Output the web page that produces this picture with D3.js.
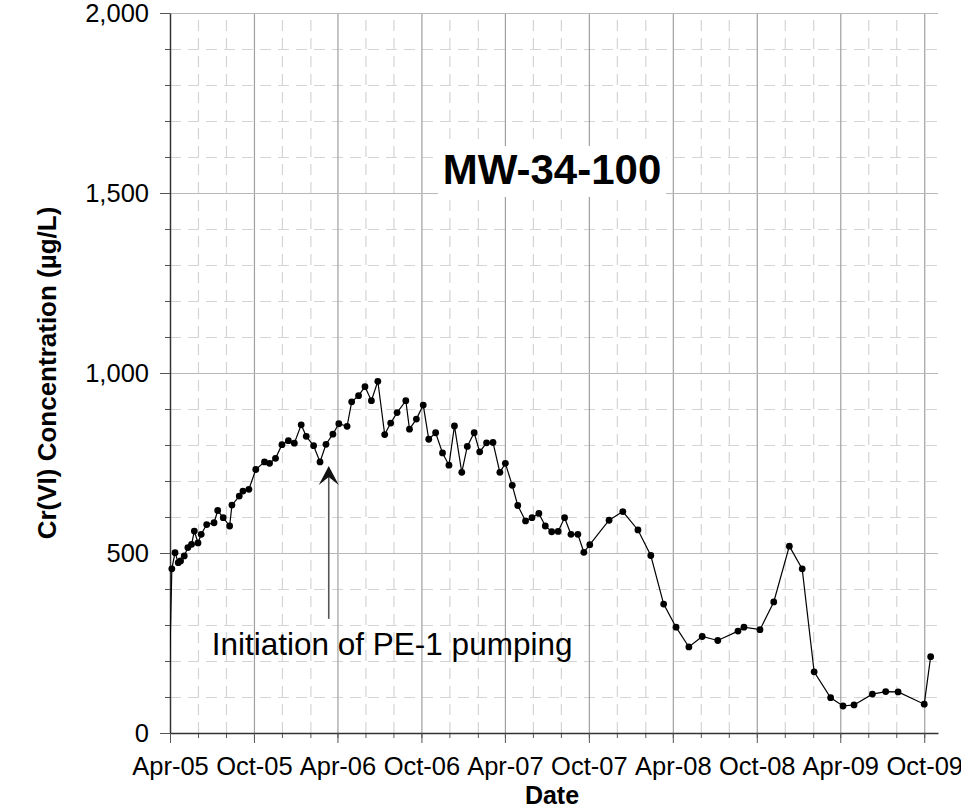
<!DOCTYPE html>
<html>
<head>
<meta charset="utf-8">
<script src="https://cdn.jsdelivr.net/npm/d3@7"></script>
<style>
  html, body { margin: 0; padding: 0; background: #fff; }
  svg { display: block; font-family: "Liberation Sans", Arial, sans-serif; }
</style>
</head>
<body>
<svg id="chart" width="961" height="808"></svg>
<script>
// sample dates (first one lies just before the axis start and is clipped)
const sampleDates = ["2005-03-28",
  "2005-04-05","2005-04-12","2005-04-19","2005-04-24","2005-05-02","2005-05-10","2005-05-18","2005-05-24","2005-06-01","2005-06-08",
  "2005-06-20","2005-07-06","2005-07-14","2005-07-26","2005-08-09","2005-08-14","2005-08-30","2005-09-07","2005-09-20","2005-10-05",
  "2005-10-24","2005-11-04","2005-11-17","2005-12-01","2005-12-15","2005-12-28","2006-01-12","2006-01-23","2006-02-08","2006-02-22",
  "2006-03-07","2006-03-22","2006-04-04","2006-04-22","2006-05-02","2006-05-17","2006-05-31","2006-06-14","2006-06-28","2006-07-13",
  "2006-07-26","2006-08-09","2006-08-28","2006-09-05","2006-09-20","2006-10-05","2006-10-17","2006-11-01","2006-11-16","2006-11-30",
  "2006-12-12","2006-12-28","2007-01-09","2007-01-24","2007-02-05","2007-02-20","2007-03-06","2007-03-21","2007-04-02","2007-04-17",
  "2007-04-29","2007-05-16","2007-05-30","2007-06-14","2007-06-28","2007-07-12","2007-07-26","2007-08-09","2007-08-23","2007-09-07",
  "2007-09-20","2007-10-03","2007-11-14","2007-12-14","2008-01-16","2008-02-13","2008-03-12","2008-04-08","2008-05-06","2008-06-04",
  "2008-07-08","2008-08-21","2008-09-03","2008-10-08","2008-11-07","2008-12-11","2009-01-08","2009-02-03","2009-03-11","2009-04-07",
  "2009-05-01","2009-06-10","2009-07-09","2009-08-05","2009-10-01","2009-10-15"];

// Cr(VI) in ug/L
const crValues = [0,
  456,501,473,478,492,515,524,561,528,552,
  579,584,618,598,575,633,658,672,677,732,
  753,749,763,801,812,805,856,824,798,753,
  802,830,859,852,920,937,962,923,977,829,
  861,890,923,844,872,911,816,834,778,744,
  853,724,796,834,781,806,807,724,749,688,
  632,589,598,610,575,559,560,598,552,552,
  502,523,591,615,564,493,358,294,239,268,
  257,283,294,287,364,519,456,170,98,75,
  78,108,115,114,80,212];

const xDomain = ["2005-04-01", "2009-10-31"];
const yTicksMajor = [0, 500, 1000, 1500, 2000];
const yTicksMinor = d3.range(0, 2001, 100);
const xTickLabels = ["Apr-05","Oct-05","Apr-06","Oct-06","Apr-07","Oct-07","Apr-08","Oct-08","Apr-09","Oct-09"];

const chartTitle = "MW-34-100";
const yTitle = "Cr(VI) Concentration (µg/L)";
const xTitle = "Date";
const noteText = "Initiation of PE-1 pumping";
const noteTip = ["2006-03-13", 742];   // arrow tip
const noteTail = ["2006-03-13", 317];  // arrow tail
const noteLabel = ["2005-07-01", 217]; // text start / baseline

const parse = d3.utcParse("%Y-%m-%d");
const data = sampleDates.map((d, i) => ({ date: parse(d), value: crValues[i] }));

const plotL = 170, plotR = 938, plotT = 13, plotB = 733;
const svg = d3.select("#chart");

const x = d3.scaleUtc().domain(xDomain.map(parse)).range([plotL, plotR]);
const y = d3.scaleLinear().domain([0, 2000]).range([plotB, plotT]);

const start = parse(xDomain[0]);
const majorDates = d3.utcMonth.range(start, x.domain()[1], 6);
const minorDates = d3.utcMonth.range(start, x.domain()[1], 2);
const minorOnly = minorDates.filter(d => d.getUTCMonth() !== 3 && d.getUTCMonth() !== 9);

// minor dashed grid
svg.append("g")
    .attr("transform", `translate(0,${plotB})`)
    .call(d3.axisBottom(x).tickValues(minorOnly).tickSize(-(plotB - plotT)).tickFormat(""))
    .call(g => g.select(".domain").remove())
    .selectAll("line").attr("stroke", "#d4d4d4").attr("stroke-width", 1.2).attr("stroke-dasharray", "11,7");

svg.append("g")
    .attr("transform", `translate(${plotL},0)`)
    .call(d3.axisLeft(y).tickValues(yTicksMinor.filter(v => v % 500 !== 0)).tickSize(-(plotR - plotL)).tickFormat(""))
    .call(g => g.select(".domain").remove())
    .selectAll("line").attr("stroke", "#d4d4d4").attr("stroke-width", 1.2).attr("stroke-dasharray", "11,7");

// major grid
svg.append("g")
    .attr("transform", `translate(0,${plotB})`)
    .call(d3.axisBottom(x).tickValues(majorDates).tickSize(-(plotB - plotT)).tickFormat(""))
    .call(g => g.select(".domain").remove())
    .selectAll("line").attr("stroke", "#a0a0a0").attr("stroke-width", 1.2);

svg.append("g")
    .attr("transform", `translate(${plotL},0)`)
    .call(d3.axisLeft(y).tickValues(yTicksMajor).tickSize(-(plotR - plotL)).tickFormat(""))
    .call(g => g.select(".domain").remove())
    .selectAll("line").attr("stroke", "#b8b8b8").attr("stroke-width", 1.2);

// title with white box
const titleX = (plotL + plotR) / 2 - 2;
const titleG = svg.append("g");
titleG.append("rect")
    .attr("x", titleX - 114).attr("y", 146)
    .attr("width", 228).attr("height", 51)
    .attr("fill", "#fff");
titleG.append("text")
    .attr("x", titleX).attr("y", 184)
    .attr("text-anchor", "middle")
    .attr("font-size", 42).attr("font-weight", "bold")
    .text(chartTitle);

// axes
const yAxisG = svg.append("g")
    .attr("transform", `translate(${plotL},0)`);
yAxisG.append("g")
    .call(d3.axisLeft(y).tickValues(yTicksMinor).tickSize(5).tickFormat(""))
    .call(g => g.select(".domain").remove())
    .selectAll("line").attr("stroke", "#555");
yAxisG.append("g")
    .call(d3.axisLeft(y).tickValues(yTicksMajor).tickSize(10).tickSizeOuter(0).tickPadding(11).tickFormat(d3.format(",")))
    .call(g => g.selectAll("line").attr("stroke", "#555"))
    .call(g => g.select(".domain").attr("stroke", "#333").attr("stroke-width", 1.4))
    .call(g => g.selectAll("text").attr("font-size", 25.5).attr("fill", "#000")
        .attr("font-family", "'Liberation Sans', Arial, sans-serif"));

const xAxisG = svg.append("g")
    .attr("transform", `translate(0,${plotB})`);
xAxisG.append("g")
    .call(d3.axisBottom(x).tickValues(minorDates).tickSize(5).tickFormat(""))
    .call(g => g.select(".domain").remove())
    .selectAll("line").attr("stroke", "#555");
xAxisG.append("g")
    .call(d3.axisBottom(x).tickValues(majorDates).tickSize(10).tickSizeOuter(0).tickPadding(14)
        .tickFormat((d, i) => xTickLabels[i]))
    .call(g => g.selectAll("line").attr("stroke", "#555"))
    .call(g => g.select(".domain").attr("stroke", "#333").attr("stroke-width", 1.4))
    .call(g => g.selectAll("text").attr("font-size", 25.5).attr("fill", "#000")
        .attr("font-family", "'Liberation Sans', Arial, sans-serif"));

// axis titles
svg.append("text")
    .attr("transform", `translate(56,${(plotT + plotB) / 2}) rotate(-90)`)
    .attr("text-anchor", "middle")
    .attr("font-size", 26).attr("font-weight", "bold")
    .text(yTitle);

svg.append("text")
    .attr("x", 552).attr("y", 804)
    .attr("text-anchor", "middle")
    .attr("font-size", 25).attr("font-weight", "bold")
    .text(xTitle);

// data line + markers
svg.append("clipPath").attr("id", "plotClip")
    .append("rect").attr("x", plotL).attr("y", plotT)
    .attr("width", plotR - plotL).attr("height", plotB - plotT);

svg.append("path")
    .datum(data)
    .attr("clip-path", "url(#plotClip)")
    .attr("fill", "none")
    .attr("stroke", "#000")
    .attr("stroke-width", 1.2)
    .attr("d", d3.line().x(d => x(d.date)).y(d => y(d.value)));

svg.append("g")
    .selectAll("circle")
    .data(data.filter(d => d.date >= x.domain()[0]))
    .join("circle")
    .attr("cx", d => x(d.date))
    .attr("cy", d => y(d.value))
    .attr("r", 3.4)
    .attr("fill", "#000");

// annotation arrow
const tipX = x(parse(noteTip[0])), tipY = y(noteTip[1]);
svg.append("line")
    .attr("x1", tipX).attr("y1", y(noteTail[1]))
    .attr("x2", tipX).attr("y2", tipY + 8)
    .attr("stroke", "#555").attr("stroke-width", 1.6);
svg.append("path")
    .attr("transform", `translate(${tipX},${tipY})`)
    .attr("d", "M0,0 L10,19 L0,11 L-10,19 Z")
    .attr("fill", "#111");

svg.append("text")
    .attr("x", x(parse(noteLabel[0]))).attr("y", y(noteLabel[1]))
    .attr("font-size", 31.5)
    .text(noteText);
</script>
</body>
</html>
